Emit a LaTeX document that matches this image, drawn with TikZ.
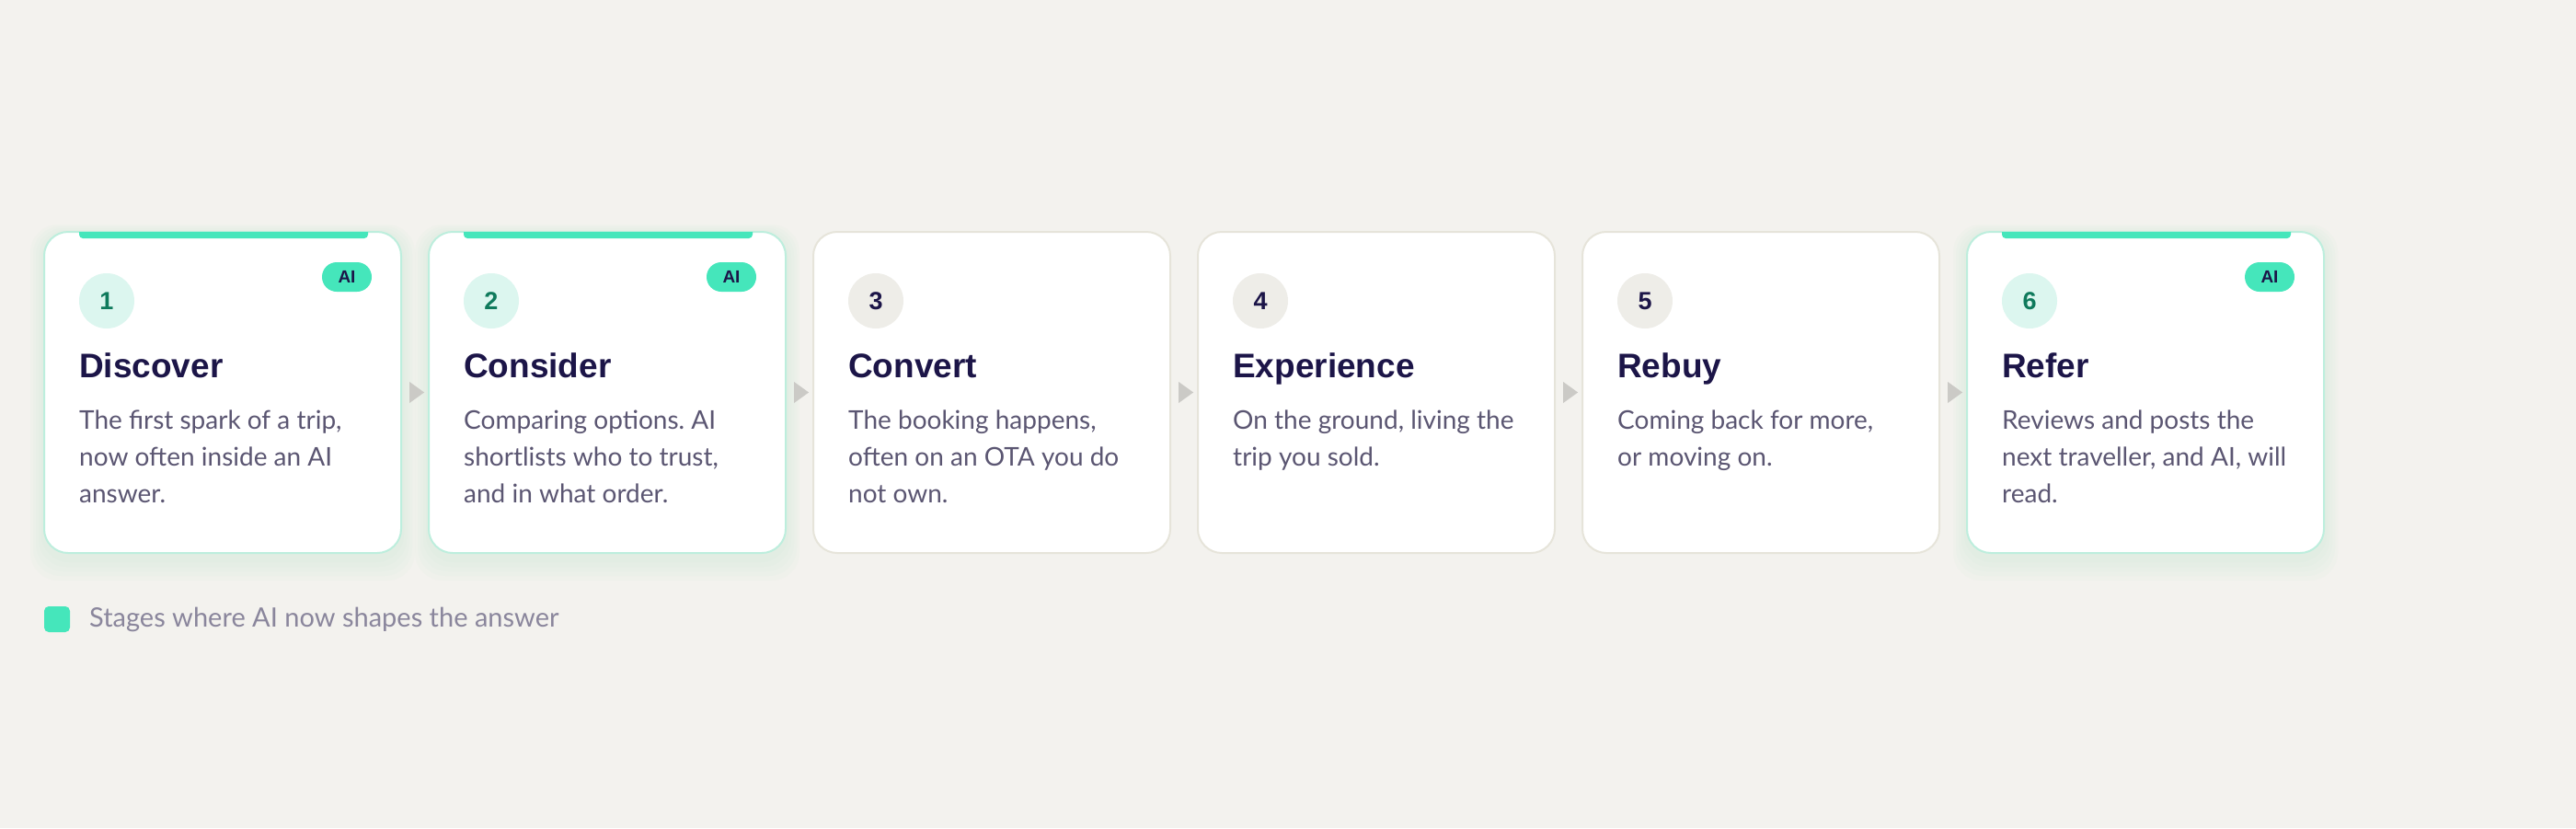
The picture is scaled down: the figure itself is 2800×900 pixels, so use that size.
\documentclass[tikz,border=0pt]{standalone}
\usepackage{fontspec}
\usepackage{xcolor}
\usepackage{tikz}
\usetikzlibrary{shapes.geometric}
\setmainfont{Lato}
\newfontfamily\headfont{Liberation Sans}
\frenchspacing
\definecolor{paper}{HTML}{F3F2EE}
\definecolor{mint}{HTML}{45E6BB}
\definecolor{mintline}{HTML}{BDEEDD}
\definecolor{mintsoft}{HTML}{DCF6EF}
\definecolor{mintglow}{HTML}{9FD9B9}
\definecolor{greyline}{HTML}{E6E4DA}
\definecolor{greysoft}{HTML}{EEEDE8}
\definecolor{arrowgrey}{HTML}{CBCAC6}
\definecolor{navy}{HTML}{1C1548}
\definecolor{deepgreen}{HTML}{0F7A5C}
\definecolor{bodytext}{HTML}{5B5672}
\definecolor{legendtext}{HTML}{8A869C}

\begin{document}
\begin{tikzpicture}
                            [x=1pt,y=-1pt,
                            card/.style = {rectangle, rounded corners=26pt, fill=white,
                                        line width=2pt, minimum width=388pt,
                                        minimum height=349pt, outer sep=0pt},
                            aicard/.style = {card, draw=mintline},
                            plaincard/.style = {card, draw=greyline},
                            numai/.style = {circle, fill=mintsoft, minimum size=60pt,
                                        inner sep=0pt, text=deepgreen,
                                        font=\headfont\bfseries\fontsize{27}{27}\selectfont},
                            numplain/.style = {numai, fill=greysoft, text=navy},
                            aibadge/.style = {rectangle, rounded corners=16pt, fill=mint,
                                        minimum width=54pt, minimum height=32pt,
                                        inner sep=0pt, text=navy,
                                        font=\headfont\bfseries\fontsize{19}{19}\selectfont},
                            stagetitle/.style = {anchor=base west, inner sep=0pt, text=navy,
                                        font=\headfont\bfseries\fontsize{37}{37}\selectfont},
                            stagetext/.style = {anchor=north west, inner sep=0pt, align=left,
                                        text=bodytext, font=\fontsize{28}{40}\selectfont},
                            accent/.style = {fill=mint},
                            glow/.style = {fill=mintglow, opacity=0.04, rounded corners=30pt},
                            steparrow/.style = {isosceles triangle, fill=arrowgrey,
                                        minimum width=23pt, minimum height=16pt,
                                        isosceles triangle stretches, inner sep=0pt}]
                            \fill[paper] (0,0) rectangle (2800,900);
                            \useasboundingbox (0,0) rectangle (2800,900);
                            % Glow under the AI stages
                            \foreach \l in {48,466,2138}
                                \foreach \k in {1,...,5}
                                    \fill[glow] (\l-3*\k,254-2*\k) rectangle (\l+388+3*\k,606+5*\k);
                            % Discover
                            \node[aicard] (c1) at (242,426.5) {};
                            \fill[accent] (86,252) [rounded corners=4pt] -- (86,259) -- (400,259) [sharp corners] -- (400,252) -- cycle;
                            \node[aibadge] (b1) at (377,301) {AI};
                            \node[numai] (n1) at (116,327) {1};
                            \node[stagetitle] (t1) at (86,410) {Discover};
                            \node[stagetext] (d1) at (86,446) {The first spark of a trip,\\now often inside an AI\\answer.};
                            % Consider
                            \node[aicard] (c2) at (660,426.5) {};
                            \fill[accent] (504,252) [rounded corners=4pt] -- (504,259) -- (818,259) [sharp corners] -- (818,252) -- cycle;
                            \node[aibadge] (b2) at (795,301) {AI};
                            \node[numai] (n2) at (534,327) {2};
                            \node[stagetitle] (t2) at (504,410) {Consider};
                            \node[stagetext] (d2) at (504,446) {Comparing options. AI\\shortlists who to trust,\\and in what order.};
                            % Convert
                            \node[plaincard] (c3) at (1078,426.5) {};
                            \node[numplain] (n3) at (952,327) {3};
                            \node[stagetitle] (t3) at (922,410) {Convert};
                            \node[stagetext] (d3) at (922,446) {The booking happens,\\often on an OTA you do\\not own.};
                            % Experience
                            \node[plaincard] (c4) at (1496,426.5) {};
                            \node[numplain] (n4) at (1370,327) {4};
                            \node[stagetitle] (t4) at (1340,410) {Experience};
                            \node[stagetext] (d4) at (1340,446) {On the ground, living the\\trip you sold.};
                            % Rebuy
                            \node[plaincard] (c5) at (1914,426.5) {};
                            \node[numplain] (n5) at (1788,327) {5};
                            \node[stagetitle] (t5) at (1758,410) {Rebuy};
                            \node[stagetext] (d5) at (1758,446) {Coming back for more,\\or moving on.};
                            % Refer
                            \node[aicard] (c6) at (2332,426.5) {};
                            \fill[accent] (2176,252) [rounded corners=4pt] -- (2176,259) -- (2490,259) [sharp corners] -- (2490,252) -- cycle;
                            \node[aibadge] (b6) at (2467,301) {AI};
                            \node[numai] (n6) at (2206,327) {6};
                            \node[stagetitle] (t6) at (2176,410) {Refer};
                            \node[stagetext] (d6) at (2176,446) {Reviews and posts the\\next traveller, and AI, will\\read.};
                            % Arrows between stages
                            \path (c1) -- node[steparrow] (a1) {} (c2);
                            \path (c2) -- node[steparrow] (a2) {} (c3);
                            \path (c3) -- node[steparrow] (a3) {} (c4);
                            \path (c4) -- node[steparrow] (a4) {} (c5);
                            \path (c5) -- node[steparrow] (a5) {} (c6);
                            % Legend
                            \node[rectangle, rounded corners=5pt, fill=mint, minimum size=28pt, inner sep=0pt] (lg) at (62,673) {};
                            \node[anchor=base west, inner sep=0pt, text=legendtext, font=\fontsize{29}{29}\selectfont] (lt) at (97,681) {Stages where AI now shapes the answer};
                        \end{tikzpicture}
\end{document}
